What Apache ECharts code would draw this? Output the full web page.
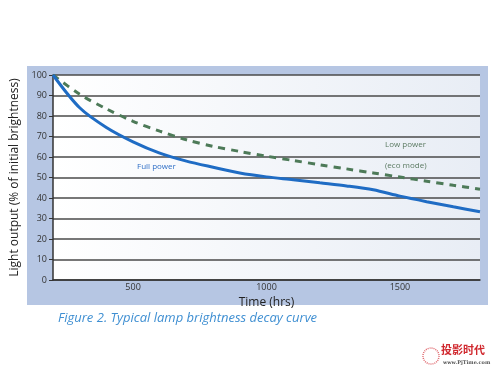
<!DOCTYPE html>
<html>
<head>
<meta charset="utf-8">
<script src="https://cdn.jsdelivr.net/npm/echarts@6/dist/echarts.min.js"></script>
<style>
  html, body { margin: 0; padding: 0; background: #fff; }
  #container { width: 500px; height: 375px; }
</style>
</head>
<body>
<div id="container"></div>
<script>
// hours of operation vs. % of initial brightness
let timeHours = [200, 300, 400, 500, 600, 700, 800, 900, 1000, 1100, 1200, 1300, 1400, 1500, 1600, 1700, 1800];
let fullPowerValue = [100, 84, 74.4, 67.4, 61.9, 58, 55, 52.2, 50.3, 48.9, 47.4, 45.9, 44, 40.9, 38.2, 35.7, 33.3];
let lowPowerValue = [100, 90.6, 83.5, 77.4, 72.6, 68.4, 65.2, 62.7, 60.4, 58.3, 56.2, 54.2, 52.2, 50.2, 48.2, 46.2, 44.3];
let yTicks = [0, 10, 20, 30, 40, 50, 60, 70, 80, 90, 100];
let xLabels = [500, 1000, 1500];

let dom = document.getElementById("container");
let myChart = echarts.init(dom);

function pairs(xs, ys) {
    let out = [];
    for (let i = 0; i < xs.length; i++) {
        out.push([xs[i], ys[i]]);
    }
    return out;
}

let option = {
    animation: false,
    graphic: [
        {
            // light blue frame behind the plot
            type: 'rect',
            z: -10,
            shape: { x: 27, y: 66, width: 461, height: 239 },
            style: { fill: '#b6c6e3' }
        },
        {
            type: 'text',
            left: 58, top: 312,
            style: {
                text: 'Figure 2. Typical lamp brightness decay curve',
                fill: '#3f8fd2',
                font: 'italic 13px "Open Sans", sans-serif'
            }
        },
        {
            type: 'text',
            left: 441, top: 344,
            style: {
                text: '投影时代',
                fill: '#d0282e',
                font: 'bold 11px "Noto Sans CJK SC", sans-serif'
            }
        },
        {
            type: 'text',
            left: 443, top: 360,
            style: {
                text: 'www.PjTime.com',
                fill: '#555',
                font: 'bold 5px "DejaVu Serif", serif'
            }
        },
        {
            type: 'circle',
            shape: { cx: 431, cy: 356, r: 8 },
            style: { fill: 'none', stroke: '#e06a70', lineWidth: 1.5, lineDash: [1, 1] }
        },
        {
            type: 'text', left: 137, top: 163,
            style: { text: 'Full power', fill: '#2f6fc6', font: '8px "Open Sans", sans-serif' }
        },
        {
            type: 'text', left: 385, top: 141,
            style: { text: 'Low power', fill: '#5b7a62', font: '8px "Open Sans", sans-serif' }
        },
        {
            type: 'text', left: 385, top: 162,
            style: { text: '(eco mode)', fill: '#5b7a62', font: '8px "Open Sans", sans-serif' }
        }
    ],
    grid: {
        left: 53,
        right: 20,
        top: 75,
        bottom: 95,
        show: true,
        borderWidth: 0,
        backgroundColor: new echarts.graphic.LinearGradient(0, 0, 1, 0, [
            { offset: 0, color: '#ffffff' },
            { offset: 1, color: '#e8edf5' }
        ])
    },
    xAxis: {
        type: 'value',
        min: 200,
        max: 1800,
        name: 'Time (hrs)',
        nameLocation: 'middle',
        nameGap: 12,
        nameTextStyle: { color: '#222', fontSize: 12, fontFamily: 'Open Sans' },
        axisLine: { show: true, lineStyle: { color: '#333', width: 1.5 } },
        axisTick: { show: false },
        splitLine: { show: false },
        axisLabel: {
            customValues: xLabels,
            formatter: function (v) { return String(v); },
            color: '#333',
            fontSize: 9,
            margin: 3,
            fontFamily: 'Open Sans'
        }
    },
    yAxis: {
        type: 'value',
        min: yTicks[0],
        max: yTicks[yTicks.length - 1],
        interval: 10,
        name: 'Light output (% of initial brightness)',
        nameLocation: 'middle',
        nameGap: 30,
        nameTextStyle: { color: '#222', fontSize: 12, fontFamily: 'Open Sans' },
        axisLine: { show: true, lineStyle: { color: '#333', width: 1.5 } },
        axisTick: { show: true, length: 4, lineStyle: { color: '#333' } },
        splitLine: { show: true, lineStyle: { color: '#4a4a4a', width: 1.5 } },
        axisLabel: { color: '#333', fontSize: 9, margin: 6, fontFamily: 'Open Sans' }
    },
    series: [
        {
            name: 'Low power',
            type: 'line',
            data: pairs(timeHours, lowPowerValue),
            smooth: 0.3,
            showSymbol: false,
            lineStyle: { color: '#4d7a58', width: 3, type: [7, 6] }
        },
        {
            name: 'Full power',
            type: 'line',
            data: pairs(timeHours, fullPowerValue),
            smooth: 0.3,
            showSymbol: false,
            lineStyle: { color: '#1f6cc4', width: 3 }
        }
    ]
};
myChart.setOption(option);
</script>
</body>
</html>
